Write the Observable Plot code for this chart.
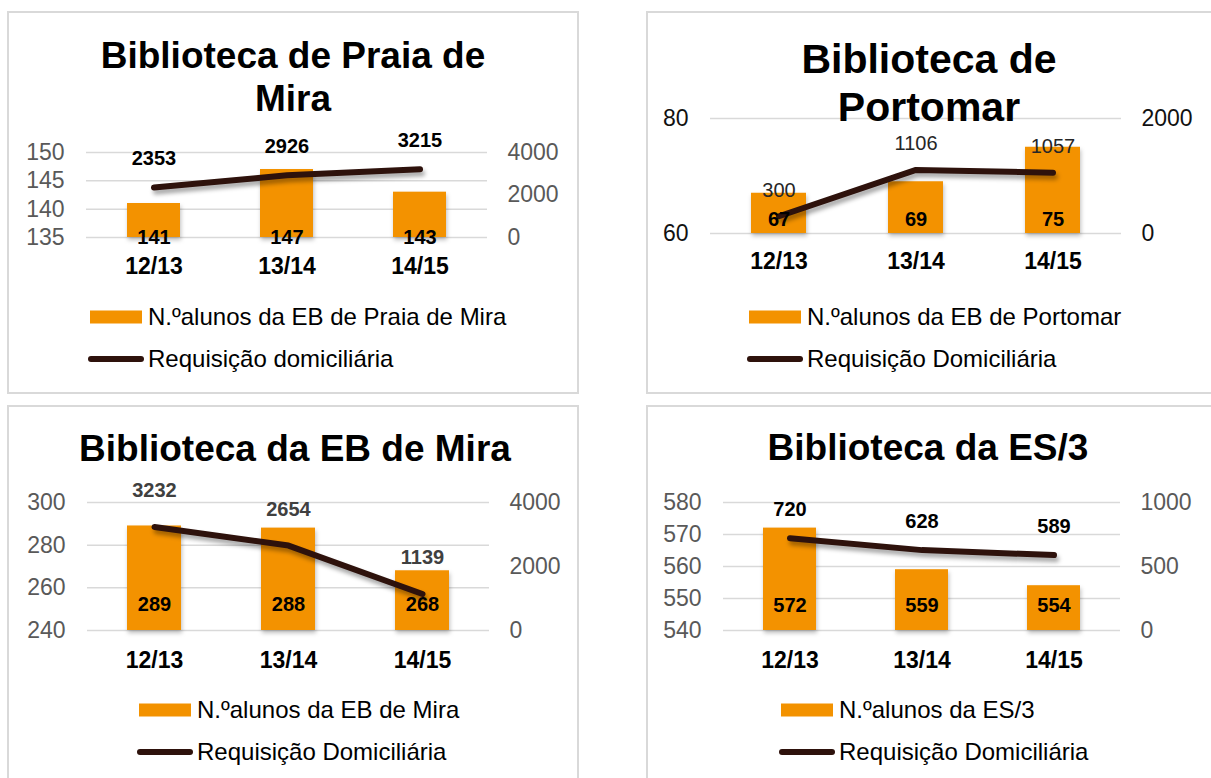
<!DOCTYPE html>
<html>
<head>
<meta charset="utf-8">
<script src="https://cdn.jsdelivr.net/npm/d3@7"></script>
<script src="https://cdn.jsdelivr.net/npm/@observablehq/plot@0.6"></script>
<style>
  html, body { margin: 0; padding: 0; background: #fff; overflow: hidden; }
  body { width: 1211px; height: 778px; position: relative; font-family: "Liberation Sans", Arial, sans-serif; }
  .box { position: absolute; border: 2px solid #d9d9d9; box-sizing: border-box; }
  .title { position: absolute; text-align: center; font-weight: bold; color: #000; white-space: nowrap; transform: translateX(-50%); }
  .chart { position: absolute; }
  .chart svg { overflow: visible; }
  .chart g[aria-label="line"] path { filter: drop-shadow(2px 4px 2px rgba(0,0,0,0.35)); }
  .chart g[aria-label="bar"] rect { filter: drop-shadow(1px 3px 2px rgba(0,0,0,0.25)); }
  .lrow { position: absolute; height: 28px; display: flex; align-items: center; font-size: 24px; line-height: 28px; color: #000; white-space: nowrap; }
  .lrow .sw { width: 56px; height: 28px; margin-right: 4px; flex: none; }
</style>
</head>
<body>
<script>
// ---------- data ----------
const seasons = ["12/13", "13/14", "14/15"];

const titles = ["Biblioteca de Praia de<br>Mira", "Biblioteca de<br>Portomar", "Biblioteca da EB de Mira", "Biblioteca da ES/3"];
const barLegend = ["N.ºalunos da EB de Praia de Mira", "N.ºalunos da EB de Portomar", "N.ºalunos da EB de Mira", "N.ºalunos da ES/3"];
const lineLegend = ["Requisição domiciliária", "Requisição Domiciliária", "Requisição Domiciliária", "Requisição Domiciliária"];

const alunosPraiaMira = [141, 147, 143];
const requisicaoPraiaMira = [2353, 2926, 3215];
const alunosPortomar = [67, 69, 75];
const requisicaoPortomar = [300, 1106, 1057];
const alunosEBMira = [289, 288, 268];
const requisicaoEBMira = [3232, 2654, 1139];
const alunosES3 = [572, 559, 554];
const requisicaoES3 = [720, 628, 589];

const leftTicksPraiaMira = [135, 140, 145, 150];
const rightTicksPraiaMira = [0, 2000, 4000];
const leftTicksPortomar = [60, 80];
const rightTicksPortomar = [0, 2000];
const leftTicksEBMira = [240, 260, 280, 300];
const rightTicksEBMira = [0, 2000, 4000];
const leftTicksES3 = [540, 550, 560, 570, 580];
const rightTicksES3 = [0, 500, 1000];

// ---------- styling / layout ----------
const ORANGE = "#F39200";
const BROWN = "#2e120c";

const panels = [
  { box: [7, 11, 572, 383], title: { cx: 293, top: 34, size: 37, lh: 43 },
    svg: { left: 0, top: 110, width: 590, height: 180, ml: 86, mr: 103, mt: 42, mb: 53 },
    bars: alunosPraiaMira, req: requisicaoPraiaMira, lt: leftTicksPraiaMira, rt: rightTicksPraiaMira,
    axisColor: "#595959", xPad: 20, barDy: 0, lineDy: -29,
    lineLab: { weight: "bold", fill: "#000" }, legend: { left: 88, top: 303 } },
  { box: [646, 11, 600, 383], title: { cx: 929, top: 35, size: 41, lh: 48 },
    svg: { left: 620, top: 100, width: 591, height: 180, ml: 90, mr: 90, mt: 18, mb: 47 },
    bars: alunosPortomar, req: requisicaoPortomar, lt: leftTicksPortomar, rt: rightTicksPortomar,
    axisColor: "#111", xPad: 19, barDy: -14, lineDy: -26,
    lineLab: { weight: "normal", fill: "#262626" }, legend: { left: 747, top: 303 } },
  { box: [7, 405, 572, 420], title: { cx: 295, top: 427, size: 37, lh: 43 },
    svg: { left: 0, top: 470, width: 590, height: 220, ml: 87, mr: 101, mt: 32, mb: 60 },
    bars: alunosEBMira, req: requisicaoEBMira, lt: leftTicksEBMira, rt: rightTicksEBMira,
    axisColor: "#595959", xPad: 21, barDy: -26, lineDy: -36,
    lineLab: { weight: "bold", fill: "#404040" }, legend: { left: 137, top: 696 } },
  { box: [646, 405, 600, 420], title: { cx: 928, top: 426, size: 37, lh: 43 },
    svg: { left: 620, top: 470, width: 591, height: 220, ml: 103, mr: 91, mt: 32, mb: 60 },
    bars: alunosES3, req: requisicaoES3, lt: leftTicksES3, rt: rightTicksES3,
    axisColor: "#595959", xPad: 21, barDy: -25, lineDy: -29,
    lineLab: { weight: "bold", fill: "#000" }, legend: { left: 779, top: 696 } }
];

panels.forEach((p, i) => {
  const box = document.createElement("div");
  box.className = "box";
  Object.assign(box.style, { left: p.box[0] + "px", top: p.box[1] + "px", width: p.box[2] + "px", height: p.box[3] + "px" });
  document.body.appendChild(box);

  const l0 = p.lt[0], l1 = p.lt[p.lt.length - 1];
  const r0 = p.rt[0], r1 = p.rt[p.rt.length - 1];
  const toLeft = v => l0 + (v - r0) / (r1 - r0) * (l1 - l0);
  const fromLeft = v => r0 + (v - l0) / (l1 - l0) * (r1 - r0);

  const rows = seasons.map((s, k) => ({ s, a: p.bars[k], r: p.req[k] }));

  const chart = Plot.plot({
    width: p.svg.width, height: p.svg.height,
    marginLeft: p.svg.ml, marginRight: p.svg.mr, marginTop: p.svg.mt, marginBottom: p.svg.mb,
    style: { background: "transparent", fontFamily: "'Liberation Sans', Arial, sans-serif", overflow: "visible" },
    x: { type: "band", domain: seasons, paddingInner: 0.6, paddingOuter: 0.3 },
    y: { domain: [l0, l1] },
    marks: [
      Plot.gridY(p.lt, { stroke: "#d9d9d9", strokeOpacity: 1, strokeWidth: 1.5 }),
      Plot.barY(rows, { x: "s", y1: l0, y2: "a", fill: ORANGE }),
      Plot.line(rows, { x: "s", y: d => toLeft(d.r), stroke: BROWN, strokeWidth: 6, strokeLinecap: "round", strokeLinejoin: "round" }),
      Plot.text(rows, { x: "s", y: l0, text: d => String(d.a), dy: p.barDy, fontSize: 20, fontWeight: "bold", fill: "#000" }),
      Plot.text(rows, { x: "s", y: d => toLeft(d.r), text: d => String(d.r), dy: p.lineDy, fontSize: 20, fontWeight: p.lineLab.weight, fill: p.lineLab.fill }),
      Plot.axisX({ tickSize: 0, tickPadding: p.xPad, fontSize: 23, fontWeight: "bold", color: "#000", label: null }),
      Plot.axisY(p.lt, { anchor: "left", tickSize: 0, tickPadding: 22, fontSize: 23, color: p.axisColor, label: null }),
      Plot.axisY(p.rt.map(toLeft), { anchor: "right", tickSize: 0, tickPadding: 20, fontSize: 23, color: p.axisColor, label: null,
        tickFormat: d => String(Math.round(fromLeft(d))) })
    ]
  });
  const wrap = document.createElement("div");
  wrap.className = "chart";
  Object.assign(wrap.style, { left: p.svg.left + "px", top: p.svg.top + "px" });
  wrap.appendChild(chart);
  document.body.appendChild(wrap);

  const t = document.createElement("div");
  t.className = "title";
  t.innerHTML = titles[i];
  Object.assign(t.style, { left: p.title.cx + "px", top: p.title.top + "px", fontSize: p.title.size + "px", lineHeight: p.title.lh + "px" });
  document.body.appendChild(t);

  const row1 = document.createElement("div");
  row1.className = "lrow";
  Object.assign(row1.style, { left: p.legend.left + "px", top: p.legend.top + "px" });
  row1.innerHTML = `<svg class="sw" width="56" height="28"><rect x="2" y="7.5" width="52" height="13" fill="${ORANGE}"/></svg><span>${barLegend[i]}</span>`;
  document.body.appendChild(row1);

  const row2 = document.createElement("div");
  row2.className = "lrow";
  Object.assign(row2.style, { left: p.legend.left + "px", top: (p.legend.top + 42) + "px" });
  row2.innerHTML = `<svg class="sw" width="56" height="28"><line x1="3" y1="14" x2="53" y2="14" stroke="${BROWN}" stroke-width="6" stroke-linecap="round"/></svg><span>${lineLegend[i]}</span>`;
  document.body.appendChild(row2);
});
</script>
</body>
</html>
